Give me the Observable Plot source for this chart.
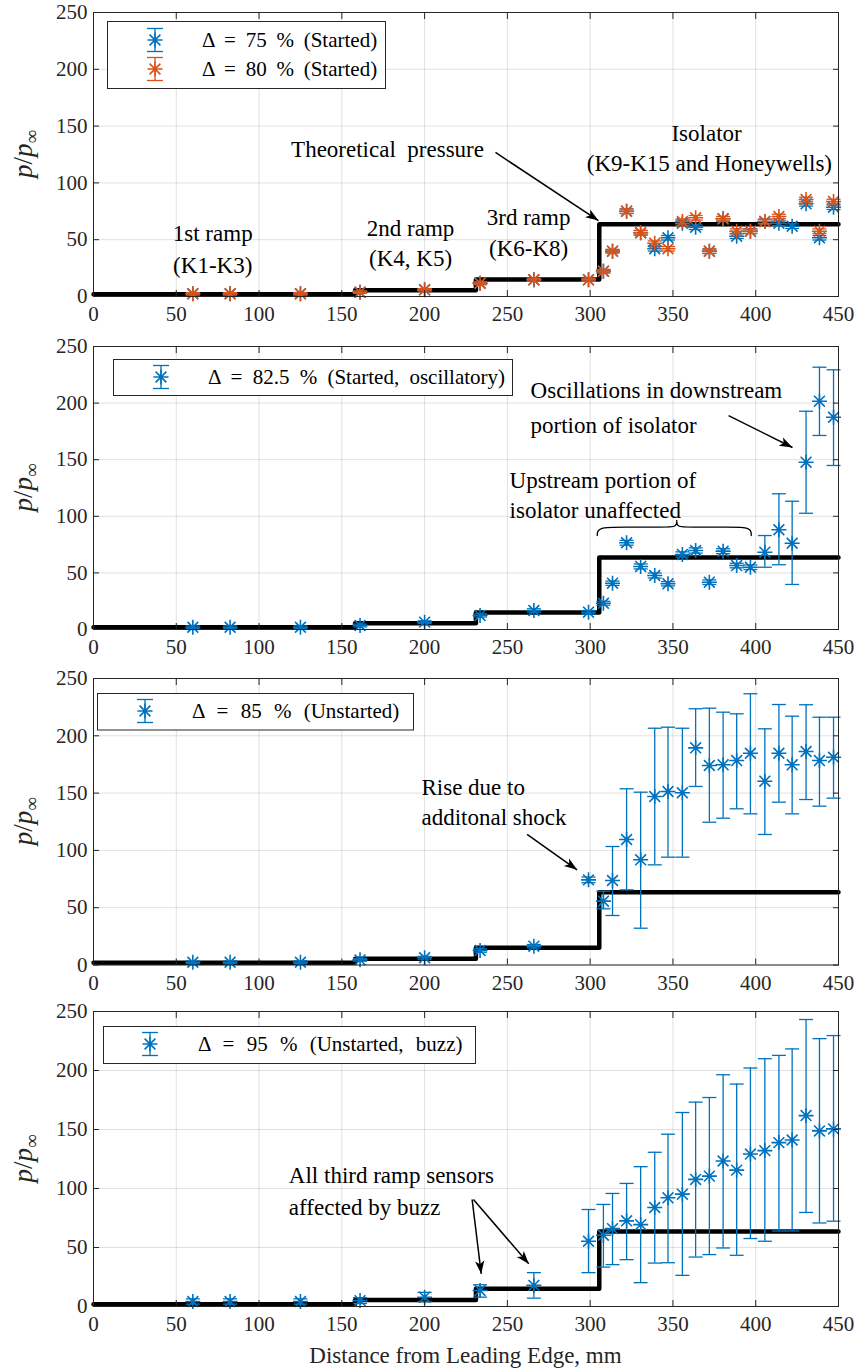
<!DOCTYPE html>
<html><head><meta charset="utf-8">
<script src="https://cdn.jsdelivr.net/npm/d3@7"></script>
<script src="https://cdn.jsdelivr.net/npm/@observablehq/plot@0.6"></script>
<style>
body{margin:0;background:#fff;}
#fig{position:relative;width:858px;height:1371px;font-family:'Liberation Serif','DejaVu Serif',serif;overflow:hidden;}
.panel{position:absolute;left:0;}
#overlay{position:absolute;left:0;top:0;pointer-events:none;}
</style></head><body><div id="fig"></div>
<script>
// ---------------- data ----------------
const xTicks = [0, 50, 100, 150, 200, 250, 300, 350, 400, 450];
const yTicks = [0, 50, 100, 150, 200, 250];
const sensorX = [60, 82.5, 125, 161, 200, 233.5, 266, 299, 308, 313.5, 322, 330.5, 339, 347, 355.7, 363.7, 372, 380.3, 388.5, 396.8, 405.5, 414, 422, 430.4, 438.5, 447];
const theoryX = [0, 158, 231, 305.5, 450];
const theoryP = [2, 5.5, 15, 63.5, 63.5];

// Δ = 75 % (Started)
const p75 = [2.4, 2.4, 2.4, 3.8, 5.9, 11.7, 14.7, 14.7, 22.3, 39.9, 75.1, 56.1, 42, 51.7, 64.5, 61, 39.9, 68.4, 53.1, 57.5, 66, 64.5, 61.9, 81.6, 51.7, 78.6];
const e75 = [1, 1, 1, 1, 1, 1.2, 1.2, 1.2, 1.5, 1.5, 2, 2, 2, 2, 2, 2, 2, 2, 2, 2, 2, 2, 2, 2, 2, 2];
// Δ = 80 % (Started)
const p80 = [2.4, 2.4, 2.4, 3.8, 5.9, 11.7, 14.7, 14.7, 22.3, 39.9, 75.1, 56.1, 46.9, 42, 66, 69.3, 39.9, 68.4, 57.5, 57.5, 66, 70.4, null, 85.4, 57.5, 83.6];
const e80 = [1, 1, 1, 1, 1, 1.2, 1.2, 1.2, 1.5, 1.5, 2, 2, 2, 2, 2, 2, 2, 2, 2, 2, 2, 2, 2, 2, 2, 2];
// Δ = 82.5 % (Started, oscillatory)
const p825 = [2, 2, 2, 3.5, 6.5, 12.4, 16.8, 15.3, 23.2, 40.9, 76.6, 55.7, 47.7, 40.4, 66.3, 69.8, 41.8, 69.2, 56.5, 55, 68.3, 88.1, 76.2, 147.8, 201.7, 187.5];
const lo825 = [0.8, 0.8, 0.8, 2.3, 5.3, 11, 15.3, 13.8, 21.5, 39, 74.5, 53.5, 45.5, 38.5, 64, 67.5, 39.8, 67, 54.5, 53, 55, 57.2, 39.8, 102.7, 171.4, 144.9];
const hi825 = [3.2, 3.2, 3.2, 4.7, 7.7, 13.8, 18.3, 16.8, 24.9, 42.8, 78.7, 57.9, 49.9, 42.3, 68.6, 72.1, 43.8, 71.4, 58.5, 57, 83, 119.9, 113.3, 192.8, 231.7, 229.4];
// Δ = 85 % (Unstarted)
const p85 = [2.4, 2.4, 2.4, 4.5, 6.3, 12.7, 16.4, 74.3, 55.7, 73.7, 109.5, 91.8, 147, 151.4, 150.3, 189.5, 174.1, 174.7, 178.4, 184.8, 160.4, 184.8, 174.7, 186.3, 178.4, 181.3];
const lo85 = [1.2, 1.2, 1.2, 3.3, 5.1, 11.2, 14.9, 71.8, 49, 43.2, 65.6, 32.1, 87.4, 94.1, 94.1, 155.8, 124.6, 128.1, 136.3, 131.9, 113.9, 142.1, 131.9, 144.4, 138.6, 145.6];
const hi85 = [3.6, 3.6, 3.6, 5.7, 7.5, 14.2, 17.9, 76.8, 64.4, 103.4, 153.8, 150.8, 206.6, 207.5, 206.6, 223.6, 224.1, 220.6, 219.2, 236.7, 206.1, 227.3, 217.1, 227.1, 216.2, 216.2];
// Δ = 95 % (Unstarted, buzz)
const p95 = [4.2, 4.2, 4.2, 5, 7.9, 13.6, 17.9, 55.3, 60.4, 66, 72.6, 69.4, 83.9, 92.1, 95.2, 107.7, 110.5, 123.3, 115.6, 129.2, 132.1, 138.9, 141.1, 161.8, 148.8, 150.5];
const lo95 = [2, 2, 2, 2.5, 4, 7.9, 7.1, 28.7, 33.4, 35.5, 39.7, 20.2, 36.8, 37.1, 26.4, 41.9, 44, 49.6, 43.4, 57.6, 55.3, 64, 64, 79.7, 70.8, 72.3];
const hi95 = [6.5, 6.5, 6.5, 7.5, 12, 18.4, 28.7, 82.2, 86.5, 95.8, 104.3, 118.5, 130.7, 146, 164.4, 173.2, 177.1, 196.4, 188.5, 202.1, 210, 212.8, 218.3, 243.2, 227, 229.6];

const seriesLabels = ["Δ = 75 % (Started)", "Δ = 80 % (Started)", "Δ = 82.5 % (Started, oscillatory)", "Δ = 85 % (Unstarted)", "Δ = 95 % (Unstarted, buzz)"];

// ---------------- styling / layout ----------------
const BLUE = "#0072BD", ORANGE = "#D95319";
const FONT = "'Liberation Serif', 'DejaVu Serif', serif";
const W = 858, ML = 93, MR = 20;

const star = {draw(ctx, size) {
  const r = Math.sqrt(size / Math.PI), d = r * 0.72;
  ctx.moveTo(-r, 0); ctx.lineTo(r, 0);
  ctx.moveTo(0, -r); ctx.lineTo(0, r);
  ctx.moveTo(-d, -d); ctx.lineTo(d, d);
  ctx.moveTo(-d, d); ctx.lineTo(d, -d);
}};
const cap = {draw(ctx, size) {
  const r = Math.sqrt(size / Math.PI);
  ctx.moveTo(-r, 0); ctx.lineTo(r, 0);
}};
// filled, notched arrow head with its tip at the origin, pointing up
const head = {draw(ctx, size) {
  const L = Math.sqrt(size / Math.PI);
  ctx.moveTo(0, 0); ctx.lineTo(-0.36 * L, L); ctx.lineTo(0, 0.75 * L); ctx.lineTo(0.36 * L, L); ctx.closePath();
}};

const theory = theoryX.map((x, i) => ({x, p: theoryP[i]}));
function table(p, lo, hi) {
  return sensorX.map((x, i) => ({x, p: p[i], lo: lo[i], hi: hi[i]})).filter(d => d.p != null);
}
const s75 = table(p75, p75.map((v, i) => v - e75[i]), p75.map((v, i) => v + e75[i]));
const s80 = table(p80, p80.map((v, i) => v == null ? null : v - e80[i]), p80.map((v, i) => v == null ? null : v + e80[i]));
const s825 = table(p825, lo825, hi825);
const s85 = table(p85, lo85, hi85);
const s95 = table(p95, lo95, hi95);

function seriesMarks(data, color) {
  return [
    Plot.ruleX(data, {x: "x", y1: "lo", y2: "hi", stroke: color, strokeWidth: 1.3}),
    Plot.dot(data, {x: "x", y: "lo", symbol: cap, r: 7, stroke: color, strokeWidth: 1.3, fill: "none"}),
    Plot.dot(data, {x: "x", y: "hi", symbol: cap, r: 7, stroke: color, strokeWidth: 1.3, fill: "none"}),
    Plot.dot(data, {x: "x", y: "p", symbol: star, r: 7.5, stroke: color, strokeWidth: 1.6, fill: "none"})
  ];
}

// annotations (data coordinates)
const notes1 = [
  {x: 72, y: 55.5, t: "1st ramp"}, {x: 72, y: 27.3, t: "(K1-K3)"},
  {x: 191.5, y: 59.9, t: "2nd ramp"}, {x: 191.5, y: 33.5, t: "(K4, K5)"},
  {x: 262.8, y: 69.5, t: "3rd ramp"}, {x: 262.8, y: 42.3, t: "(K6-K8)"},
  {x: 177.6, y: 129.4, t: "Theoretical\u00a0 pressure"},
  {x: 370.3, y: 143.5, t: "Isolator"}, {x: 372, y: 117.1, t: "(K9-K15 and Honeywells)"}
];
const arrows1 = [{x1: 242.8, y1: 126.8, x2: 305, y2: 66.9}];
const notes2 = [
  {x: 264, y: 211.1, t: "Oscillations in downstream"}, {x: 264, y: 180.2, t: "portion of isolator"},
  {x: 251.3, y: 131.6, t: "Upstream portion of"}, {x: 251.3, y: 105.1, t: "isolator unaffected"}
];
const arrows2 = [{x1: 383.6, y1: 189, x2: 422.2, y2: 160.8}];
const brace2 = [[304.3, 83], [304.3, 90.4], [320, 90.4], [345, 90.4], [352.3, 90.4], [352.3, 96.3], [352.3, 96.3], [352.3, 96.3], [352.3, 90.4], [359.6, 90.4], [384.6, 90.4], [397.3, 90.4], [397.3, 83]];
const notes3 = [{x: 198.1, y: 155.1, t: "Rise due to"}, {x: 198.1, y: 129, t: "additonal shock"}];
const arrows3 = [{x1: 261.9, y1: 113.9, x2: 292.1, y2: 83.1}];
const notes4 = [{x: 118, y: 111, t: "All third ramp sensors"}, {x: 118, y: 84.2, t: "affected by buzz"}];
const arrows4 = [{x1: 228.7, y1: 90.7, x2: 234.2, y2: 27.7}, {x1: 229.5, y1: 90.7, x2: 262.9, y2: 36.2}];

const panels = [
  {top: 12, bottom: 296, mb: 40, series: [[s75, BLUE], [s80, ORANGE]], notes: notes1, anchor: "middle", arrows: arrows1},
  {top: 346, bottom: 629, mb: 40, series: [[s825, BLUE]], notes: notes2, anchor: "start", arrows: arrows2, brace: brace2},
  {top: 678, bottom: 964.5, mb: 40, series: [[s85, BLUE]], notes: notes3, anchor: "start", arrows: arrows3},
  {top: 1011, bottom: 1306, mb: 65, series: [[s95, BLUE]], notes: notes4, anchor: "start", arrows: arrows4}
];

const fig = document.getElementById("fig");
const MT = 10;
panels.forEach(cfg => {
  const h = cfg.bottom - cfg.top;
  const kx = (W - ML - MR) / 450, ky = h / 250;
  // screen-space heading of each arrow (degrees clockwise from up)
  const arrows = cfg.arrows.map(a => ({...a, ang: Math.atan2((a.x2 - a.x1) * kx, (a.y2 - a.y1) * ky) * 180 / Math.PI}));
  const marks = [
    Plot.gridX(xTicks, {stroke: "#000", strokeOpacity: 0.12}),
    Plot.gridY(yTicks, {stroke: "#000", strokeOpacity: 0.12}),
    Plot.line(theory, {x: "x", y: "p", curve: "step-after", stroke: "#000", strokeWidth: 4.5})
  ];
  cfg.series.forEach(([d, c]) => marks.push(...seriesMarks(d, c)));
  marks.push(Plot.text(cfg.notes, {x: "x", y: "y", text: "t", textAnchor: cfg.anchor, fontSize: 23, fontFamily: FONT, fill: "#000"}));
  marks.push(Plot.link(arrows, {x1: "x1", y1: "y1", x2: "x2", y2: "y2", stroke: "#000", strokeWidth: 1.5}));
  marks.push(Plot.dot(arrows, {x: "x2", y: "y2", symbol: head, r: 13, rotate: "ang", fill: "#000", stroke: "none"}));
  if (cfg.brace) marks.push(Plot.line(cfg.brace, {x: d => d[0], y: d => d[1], curve: "basis", stroke: "#000", strokeWidth: 1.3}));
  marks.push(
    Plot.frame({stroke: "#262626", strokeWidth: 1}),
    Plot.axisX(xTicks, {anchor: "bottom", tickSize: -6, tickPadding: 16, fontSize: 21, fontFamily: FONT, label: null}),
    Plot.axisX(xTicks, {anchor: "top", tickSize: -6, tickFormat: () => "", label: null}),
    Plot.axisY(yTicks, {anchor: "left", tickSize: -6, tickPadding: 12, fontSize: 21, fontFamily: FONT, label: null}),
    Plot.axisY(yTicks, {anchor: "right", tickSize: -6, tickFormat: () => "", label: null})
  );
  const chart = Plot.plot({
    width: W, height: h + MT + cfg.mb,
    marginLeft: ML, marginRight: MR, marginTop: MT, marginBottom: cfg.mb,
    x: {domain: [0, 450]}, y: {domain: [0, 250]},
    style: {fontFamily: FONT, color: "#262626", background: "transparent", overflow: "visible"},
    marks
  });
  chart.classList.add("panel");
  chart.style.top = (cfg.top - MT) + "px";
  fig.appendChild(chart);
});

// ---------------- overlay: legends and axis titles ----------------
const legends = [
  {x: 107, y: 21, w: 278, h: 67, symX: 155, textX: 202, ws: 4.5, rows: [{cy: 40, label: seriesLabels[0], color: BLUE}, {cy: 69, label: seriesLabels[1], color: ORANGE}]},
  {x: 113, y: 359, w: 399, h: 36, symX: 161, textX: 208, ws: 5, rows: [{cy: 377, label: seriesLabels[2], color: BLUE}]},
  {x: 97, y: 693, w: 316, h: 36.5, symX: 145, textX: 192, ws: 7, rows: [{cy: 711, label: seriesLabels[3], color: BLUE}]},
  {x: 103, y: 1026, w: 372, h: 37, symX: 150, textX: 198, ws: 7, rows: [{cy: 1044, label: seriesLabels[4], color: BLUE}]}
];
const ov = d3.select(fig).append("svg").attr("id", "overlay").attr("width", W).attr("height", 1371);
const starPath = d3.symbol(star, Math.PI * 7.5 * 7.5)();
legends.forEach(L => {
  ov.append("rect").attr("x", L.x + 0.5).attr("y", L.y + 0.5).attr("width", L.w).attr("height", L.h)
    .attr("fill", "#fff").attr("stroke", "#262626").attr("stroke-width", 1);
  L.rows.forEach(r => {
    const g = ov.append("g").attr("stroke", r.color).attr("fill", "none");
    g.append("line").attr("x1", L.symX).attr("x2", L.symX).attr("y1", r.cy - 11.5).attr("y2", r.cy + 11.5).attr("stroke-width", 1.3);
    g.append("line").attr("x1", L.symX - 8).attr("x2", L.symX + 8).attr("y1", r.cy - 11.5).attr("y2", r.cy - 11.5).attr("stroke-width", 1.3);
    g.append("line").attr("x1", L.symX - 8).attr("x2", L.symX + 8).attr("y1", r.cy + 11.5).attr("y2", r.cy + 11.5).attr("stroke-width", 1.3);
    g.append("path").attr("d", starPath).attr("transform", `translate(${L.symX},${r.cy})`).attr("stroke-width", 1.6);
    ov.append("text").attr("x", L.textX).attr("y", r.cy).attr("dy", "0.35em")
      .style("font-family", FONT).style("word-spacing", L.ws + "px").attr("font-size", 21).attr("fill", "#000")
      .attr("xml:space", "preserve").text(r.label);
  });
});
panels.forEach(cfg => {
  const cy = (cfg.top + cfg.bottom) / 2;
  const t = ov.append("text").attr("transform", `translate(32,${cy}) rotate(-90)`)
    .attr("text-anchor", "middle").style("font-family", FONT).attr("font-size", 27).attr("fill", "#262626");
  t.append("tspan").attr("font-style", "italic").text("p");
  t.append("tspan").text("/");
  t.append("tspan").attr("font-style", "italic").text("p");
  t.append("tspan").attr("font-size", 19).attr("dy", 6).text("∞");
});
ov.append("text").attr("x", 465.5).attr("y", 1355).attr("dy", "0.35em").attr("text-anchor", "middle")
  .style("font-family", FONT).attr("font-size", 23).attr("fill", "#262626").text("Distance from Leading Edge, mm");
</script>
</body></html>
